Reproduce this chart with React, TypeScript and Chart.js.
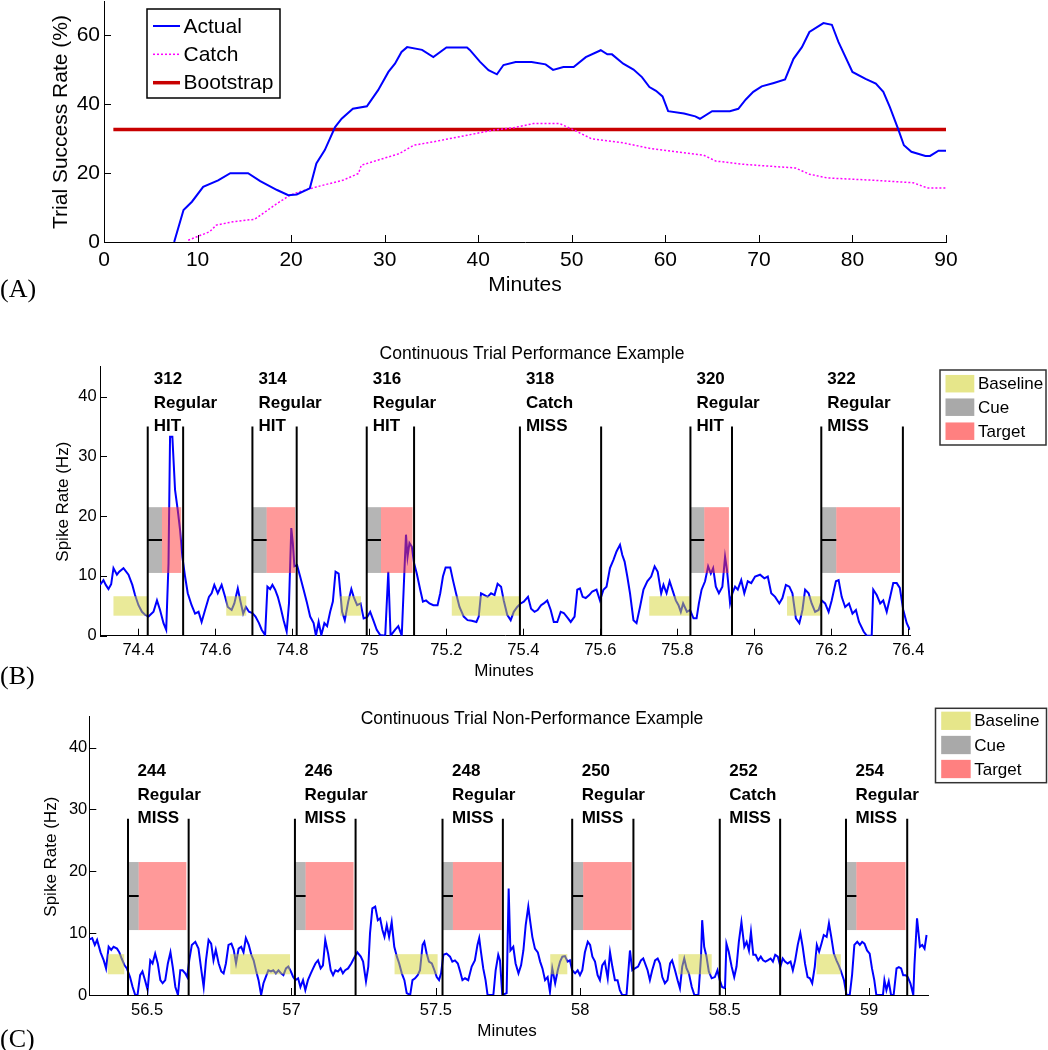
import React, { useEffect, useRef } from "react";
import { Chart, registerables } from "chart.js";

Chart.register(...registerables);

const SANS = '"Liberation Sans", Arial, Helvetica, sans-serif';
const SERIF = '"Liberation Serif", "Times New Roman", serif';

// ---------------- Panel A data ----------------
const actualSeries: [number, number][] = [
  [7.5, 0], [8.5, 9.3], [9.4, 11.7], [10.6, 16.0], [12.2, 17.9], [13.5, 20.0], [15.4, 20.0], [16.7, 17.7],
  [18.5, 15.1], [19.7, 13.6], [20.6, 13.8], [22.0, 15.6], [22.7, 22.8], [23.6, 26.7], [24.7, 33.4], [25.4, 35.8],
  [26.6, 38.7], [28.1, 39.4], [29.3, 44.1], [30.4, 49.4], [31.1, 51.8], [31.8, 55.2], [32.4, 56.6], [34.0, 55.8],
  [35.2, 53.7], [36.6, 56.5], [38.8, 56.5], [39.1, 55.8], [40.2, 52.3], [41.1, 49.9], [42.0, 48.7], [42.7, 51.4],
  [44.0, 52.3], [45.7, 52.3], [47.2, 51.6], [48.0, 50.0], [49.1, 50.8], [50.2, 50.8], [51.5, 53.7], [53.1, 55.7],
  [53.8, 54.5], [54.3, 54.5], [55.5, 51.8], [56.6, 50.1], [57.5, 47.9], [58.3, 45.0], [59.0, 43.9], [59.7, 42.3],
  [60.3, 38.0], [62.0, 37.3], [63.2, 36.5], [63.7, 35.8], [65.0, 38.0], [66.9, 38.0], [67.8, 38.7], [68.6, 41.4],
  [69.4, 43.6], [70.3, 45.2], [71.6, 46.2], [72.8, 47.2], [73.7, 53.2], [74.6, 56.6], [75.4, 61.0], [76.9, 63.6],
  [77.8, 63.1], [78.5, 58.1], [80.0, 49.4], [81.4, 47.4], [82.5, 46.0], [83.3, 43.6], [84.0, 39.2], [84.9, 32.7],
  [85.5, 28.1], [86.3, 26.2], [87.8, 25.0], [88.3, 25.0], [89.2, 26.5], [90.0, 26.5],
];
const catchSeries: [number, number][] = [
  [9.0, 0.5], [10.1, 1.7], [11.3, 3.0], [12.0, 4.9], [13.8, 5.9], [16.1, 6.6], [17.0, 8.3], [18.5, 11.2],
  [19.9, 13.6], [20.9, 14.6], [22.7, 16.0], [25.6, 18.0], [27.2, 19.9], [27.5, 22.3], [29.9, 24.3], [31.6, 25.7],
  [33.1, 28.1], [35.2, 29.1], [38.8, 31.0], [41.6, 32.5], [43.8, 33.2], [45.9, 34.4], [48.7, 34.4], [49.5, 33.4],
  [50.4, 32.3], [52.1, 30.0], [55.5, 28.8], [58.5, 27.1], [61.1, 26.2], [64.1, 25.2], [65.4, 23.5], [68.6, 22.5],
  [73.9, 21.5], [75.4, 19.7], [77.3, 18.6], [81.8, 18.0], [86.5, 17.2], [88.0, 15.7], [90.0, 15.7],
];
const bootstrapSeries: [number, number][] = [[1, 32.7], [90, 32.7]];
const minuteTicksA = [0, 10, 20, 30, 40, 50, 60, 70, 80, 90];
const rateTicksA = [0, 20, 40, 60];
const legendLabelsA = ["Actual", "Catch", "Bootstrap"];

// ---------------- Panel B data ----------------
const spikeTraceB: [number, number][] = [
  [74.300, 8.5], [74.309, 9.3], [74.315, 8.5], [74.322, 7.8], [74.329, 8.6], [74.335, 11.3], [74.344, 10.2], [74.350, 10.7],
  [74.361, 11.3], [74.374, 10.2], [74.384, 8.5], [74.391, 6.8], [74.400, 5.1], [74.409, 4.0], [74.417, 3.5], [74.426, 3.2],
  [74.439, 4.0], [74.448, 5.9], [74.456, 4.3], [74.465, 2.1], [74.472, 1.0], [74.478, 12.1], [74.482, 33.3], [74.488, 33.3],
  [74.495, 24.4], [74.502, 21.0], [74.508, 17.7], [74.514, 13.2], [74.521, 9.9], [74.528, 7.1], [74.538, 5.1], [74.547, 3.7],
  [74.556, 4.0], [74.564, 2.3], [74.573, 4.3], [74.583, 6.5], [74.590, 7.1], [74.597, 8.5], [74.606, 7.1], [74.616, 8.5],
  [74.625, 6.5], [74.632, 4.8], [74.642, 4.3], [74.649, 5.4], [74.658, 7.9], [74.665, 5.7], [74.672, 3.7], [74.679, 4.8],
  [74.687, 4.0], [74.696, 3.8], [74.704, 3.2], [74.713, 2.1], [74.720, 1.0], [74.729, 0.1], [74.735, 8.2], [74.742, 7.8],
  [74.748, 8.5], [74.755, 7.7], [74.762, 6.5], [74.769, 4.8], [74.777, 2.6], [74.785, 0.7], [74.791, 5.4], [74.797, 18.0],
  [74.801, 15.5], [74.805, 11.6], [74.812, 11.8], [74.820, 9.9], [74.829, 7.7], [74.837, 5.7], [74.846, 3.2], [74.855, 2.1],
  [74.861, 0], [74.868, 2.3], [74.875, 0.1], [74.883, 2.1], [74.890, 1.6], [74.898, 4.0], [74.905, 5.7], [74.912, 10.7],
  [74.920, 10.4], [74.929, 4.0], [74.936, 2.6], [74.945, 5.7], [74.953, 7.8], [74.959, 6.5], [74.968, 5.1], [74.977, 5.4],
  [74.985, 2.9], [74.994, 3.1], [75.002, 4.0], [75.010, 2.6], [75.019, 1.0], [75.028, 0.1], [75.041, 0], [75.049, 10.7],
  [75.055, 0], [75.067, 1.0], [75.075, 1.6], [75.084, 0], [75.091, 11.0], [75.095, 16.9], [75.099, 13.2], [75.104, 15.5],
  [75.110, 14.9], [75.116, 12.1], [75.123, 10.4], [75.132, 7.7], [75.139, 5.7], [75.147, 5.9], [75.156, 5.4], [75.166, 5.1],
  [75.177, 5.1], [75.184, 7.1], [75.191, 9.9], [75.198, 11.4], [75.210, 11.4], [75.217, 9.3], [75.225, 7.1], [75.234, 4.8],
  [75.245, 3.2], [75.255, 2.6], [75.266, 2.5], [75.278, 2.3], [75.284, 3.2], [75.290, 7.1], [75.299, 6.8], [75.307, 6.5],
  [75.316, 7.1], [75.325, 6.8], [75.333, 8.7], [75.342, 8.2], [75.349, 5.9], [75.358, 3.5], [75.367, 2.6], [75.375, 4.0],
  [75.384, 4.8], [75.393, 5.4], [75.401, 5.7], [75.412, 6.5], [75.420, 4.5], [75.429, 4.0], [75.437, 4.3], [75.446, 5.1],
  [75.453, 5.4], [75.462, 5.9], [75.471, 4.3], [75.479, 2.3], [75.488, 2.3], [75.497, 4.0], [75.505, 3.8], [75.516, 2.9],
  [75.523, 2.3], [75.533, 3.2], [75.540, 7.7], [75.547, 7.9], [75.554, 6.5], [75.562, 6.3], [75.571, 6.8], [75.579, 7.4],
  [75.590, 7.7], [75.599, 5.9], [75.608, 7.7], [75.616, 8.2], [75.625, 11.3], [75.634, 12.7], [75.642, 14.1], [75.651, 15.2],
  [75.657, 13.5], [75.663, 12.4], [75.670, 9.9], [75.677, 7.1], [75.686, 2.6], [75.694, 2.1], [75.703, 4.8], [75.712, 7.7],
  [75.722, 9.1], [75.732, 9.9], [75.741, 11.6], [75.749, 10.7], [75.758, 7.1], [75.764, 8.5], [75.772, 7.1], [75.780, 9.1],
  [75.787, 7.7], [75.796, 5.9], [75.803, 5.1], [75.809, 4.0], [75.815, 5.4], [75.825, 4.0], [75.833, 4.3], [75.842, 2.9],
  [75.850, 2.9], [75.856, 5.4], [75.863, 7.7], [75.872, 9.1], [75.880, 11.6], [75.887, 10.4], [75.893, 11.3], [75.900, 8.2],
  [75.908, 7.1], [75.917, 8.2], [75.924, 13.2], [75.929, 11.0], [75.937, 5.4], [75.943, 7.1], [75.950, 8.2], [75.957, 7.7],
  [75.966, 9.3], [75.974, 7.1], [75.983, 9.1], [75.992, 8.8], [76.002, 9.9], [76.015, 10.2], [76.026, 9.6], [76.035, 9.9],
  [76.044, 7.1], [76.054, 6.5], [76.065, 5.4], [76.073, 6.3], [76.082, 8.5], [76.091, 8.2], [76.099, 7.1], [76.108, 2.9],
  [76.117, 2.1], [76.125, 4.3], [76.132, 7.7], [76.141, 7.1], [76.149, 5.4], [76.158, 4.0], [76.167, 4.3], [76.175, 5.9],
  [76.184, 5.4], [76.193, 4.0], [76.201, 5.9], [76.212, 9.1], [76.219, 9.3], [76.227, 6.5], [76.236, 4.8], [76.246, 5.4],
  [76.255, 3.7], [76.264, 4.3], [76.272, 2.3], [76.284, 0.7], [76.292, 0], [76.305, 0], [76.309, 7.7], [76.318, 6.8],
  [76.327, 5.4], [76.335, 5.9], [76.344, 4.0], [76.353, 6.5], [76.361, 8.8], [76.370, 8.8], [76.378, 8.0], [76.387, 4.3],
  [76.396, 2.1], [76.404, 1.0],
];
const trialIdsB = ["312", "314", "316", "318", "320", "322"];
const trialTypesB = ["Regular", "Regular", "Regular", "Catch", "Regular", "Regular"];
const trialOutcomesB = ["HIT", "HIT", "HIT", "MISS", "HIT", "MISS"];
const trialStartB = [74.424, 74.696, 74.993, 75.391, 75.834, 76.174];
const trialEndB = [74.516, 74.811, 75.116, 75.602, 75.942, 76.386];
const cueEndB: (number | null)[] = [74.461, 74.733, 75.030, null, 75.870, 76.213];
const targetEndB: (number | null)[] = [74.511, 74.807, 75.112, null, 75.934, 76.379];
const baselineStartB = [74.335, 74.628, 74.924, 75.214, 75.727, 76.085];
const baselineEndB = [74.424, 74.680, 74.978, 75.390, 75.832, 76.174];
const minuteTicksB = [74.4, 74.6, 74.8, 75, 75.2, 75.4, 75.6, 75.8, 76, 76.2, 76.4];

// ---------------- Panel C data ----------------
const spikeTraceC: [number, number][] = [
  [56.301, 9.0], [56.310, 9.2], [56.319, 8.1], [56.327, 8.9], [56.339, 6.9], [56.350, 5.6], [56.358, 4.3], [56.367, 7.8],
  [56.376, 7.3], [56.384, 7.8], [56.396, 7.5], [56.404, 6.9], [56.412, 5.9], [56.422, 4.8], [56.430, 4.3], [56.441, 2.9],
  [56.450, 1.3], [56.459, 0], [56.467, 0], [56.476, 3.2], [56.484, 3.8], [56.493, 2.4], [56.502, 0.8], [56.511, 5.6],
  [56.519, 5.1], [56.528, 6.7], [56.537, 5.1], [56.546, 2.4], [56.554, 1.9], [56.563, 2.4], [56.572, 5.1], [56.581, 6.9],
  [56.589, 4.5], [56.598, 1.3], [56.607, 0], [56.615, 4.0], [56.623, 4.0], [56.632, 3.5], [56.639, 2.9], [56.646, 5.6],
  [56.655, 8.1], [56.667, 8.6], [56.678, 7.5], [56.688, 4.0], [56.696, 1.3], [56.704, 5.6], [56.713, 8.9], [56.722, 8.3],
  [56.730, 5.6], [56.738, 7.3], [56.748, 5.1], [56.757, 3.8], [56.765, 3.5], [56.773, 5.1], [56.782, 8.1], [56.792, 8.3],
  [56.800, 7.3], [56.808, 5.1], [56.817, 7.5], [56.826, 7.8], [56.834, 6.9], [56.842, 9.2], [56.852, 8.1], [56.861, 6.5],
  [56.869, 5.6], [56.877, 4.0], [56.886, 2.4], [56.895, 0], [56.903, 1.9], [56.911, 2.9], [56.920, 4.0], [56.929, 3.8],
  [56.937, 4.0], [56.946, 3.5], [56.955, 4.0], [56.964, 3.5], [56.972, 3.2], [56.981, 4.3], [56.989, 4.6], [56.998, 3.8],
  [57.006, 2.9], [57.014, 2.4], [57.023, 2.7], [57.031, 1.3], [57.040, 2.4], [57.048, 0.8], [57.057, 2.4], [57.067, 3.5],
  [57.075, 4.3], [57.083, 5.1], [57.092, 5.6], [57.101, 4.3], [57.109, 4.8], [57.117, 8.9], [57.127, 6.7], [57.136, 4.0],
  [57.144, 3.2], [57.152, 4.0], [57.161, 3.8], [57.170, 4.3], [57.178, 3.5], [57.186, 4.0], [57.196, 4.3], [57.207, 5.1],
  [57.216, 5.9], [57.228, 6.9], [57.240, 6.2], [57.248, 5.4], [57.258, 2.2], [57.266, 4.6], [57.272, 10.0], [57.280, 14.0],
  [57.290, 14.3], [57.299, 12.1], [57.307, 12.4], [57.315, 10.5], [57.322, 9.4], [57.330, 11.3], [57.338, 9.4], [57.347, 11.8],
  [57.356, 7.8], [57.365, 6.2], [57.373, 5.1], [57.382, 3.5], [57.391, 2.4], [57.399, 0.3], [57.411, 0], [57.419, 2.4],
  [57.428, 2.7], [57.437, 3.2], [57.445, 4.0], [57.454, 8.1], [57.460, 8.6], [57.468, 6.7], [57.476, 5.4], [57.486, 5.1],
  [57.495, 4.0], [57.503, 2.9], [57.511, 2.4], [57.518, 3.5], [57.526, 6.5], [57.537, 6.7], [57.549, 6.2], [57.557, 5.4],
  [57.566, 5.6], [57.576, 5.1], [57.584, 3.8], [57.592, 2.4], [57.601, 2.7], [57.612, 2.4], [57.624, 4.6], [57.635, 5.6],
  [57.644, 8.1], [57.650, 9.2], [57.656, 7.0], [57.664, 4.3], [57.672, 2.4], [57.679, 0], [57.699, 0], [57.707, 4.0],
  [57.716, 6.5], [57.722, 5.6], [57.730, 0], [57.745, 0.3], [57.752, 17.2], [57.758, 7.2], [57.768, 7.8], [57.776, 5.1],
  [57.786, 3.5], [57.795, 4.8], [57.803, 7.2], [57.811, 11.3], [57.820, 14.3], [57.826, 12.1], [57.834, 9.4], [57.843, 7.5],
  [57.853, 6.9], [57.861, 5.4], [57.869, 4.3], [57.878, 2.4], [57.887, 2.9], [57.895, 0.5], [57.903, 4.3], [57.913, 1.9],
  [57.922, 4.0], [57.930, 5.4], [57.938, 6.2], [57.947, 6.3], [57.956, 5.4], [57.964, 5.6], [57.972, 4.0], [57.982, 3.5],
  [57.991, 4.0], [57.999, 3.2], [58.007, 4.0], [58.016, 6.9], [58.026, 8.6], [58.034, 8.1], [58.042, 6.2], [58.051, 5.4],
  [58.060, 3.2], [58.068, 2.4], [58.076, 4.8], [58.085, 5.4], [58.095, 2.7], [58.103, 6.9], [58.111, 4.6], [58.120, 2.4],
  [58.129, 2.4], [58.137, 0.8], [58.145, 0], [58.160, 0], [58.172, 7.2], [58.180, 4.0], [58.189, 4.3], [58.200, 4.6],
  [58.210, 5.6], [58.218, 5.9], [58.233, 4.0], [58.241, 2.4], [58.249, 4.0], [58.259, 5.6], [58.268, 5.9], [58.276, 5.1],
  [58.284, 2.9], [58.293, 1.9], [58.302, 2.4], [58.311, 5.1], [58.318, 5.6], [58.328, 4.0], [58.337, 2.4], [58.345, 1.1],
  [58.353, 4.6], [58.360, 5.9], [58.368, 4.3], [58.376, 3.5], [58.386, 1.3], [58.395, 0], [58.409, 0], [58.418, 6.2],
  [58.422, 12.1], [58.429, 7.8], [58.437, 6.2], [58.445, 3.8], [58.455, 2.7], [58.466, 2.9], [58.475, 4.0], [58.483, 2.4],
  [58.491, 1.3], [58.501, 1.1], [58.506, 8.3], [58.514, 7.0], [58.524, 4.6], [58.533, 2.9], [58.541, 4.6], [58.549, 8.6],
  [58.558, 11.8], [58.568, 7.8], [58.576, 8.6], [58.584, 7.2], [58.591, 10.2], [58.599, 6.5], [58.607, 6.5], [58.616, 5.6],
  [58.625, 6.2], [58.633, 5.6], [58.641, 5.4], [58.649, 5.6], [58.659, 5.9], [58.667, 5.4], [58.675, 6.5], [58.684, 6.2],
  [58.693, 4.6], [58.701, 5.9], [58.709, 5.4], [58.718, 5.1], [58.728, 5.4], [58.736, 4.0], [58.744, 5.6], [58.753, 8.1],
  [58.762, 10.0], [58.770, 7.8], [58.778, 5.1], [58.787, 2.9], [58.795, 2.7], [58.803, 1.9], [58.812, 4.6], [58.819, 8.1],
  [58.827, 7.0], [58.835, 8.3], [58.843, 9.7], [58.853, 9.4], [58.861, 11.6], [58.869, 9.4], [58.878, 6.7], [58.887, 5.6],
  [58.895, 4.8], [58.903, 3.8], [58.913, 2.4], [58.922, 0], [58.933, 0], [58.941, 3.2], [58.949, 8.1], [58.959, 8.6],
  [58.968, 8.1], [58.976, 8.6], [58.984, 8.3], [58.993, 7.2], [59.002, 6.7], [59.010, 4.3], [59.018, 2.4], [59.025, 0],
  [59.048, 0], [59.053, 2.4], [59.060, 0.8], [59.068, 2.2], [59.076, 0], [59.085, 0], [59.095, 4.3], [59.103, 4.5],
  [59.111, 4.3], [59.118, 3.2], [59.126, 3.2], [59.134, 2.9], [59.143, 1.9], [59.153, 0], [59.157, 4.8], [59.166, 12.4],
  [59.176, 7.8], [59.184, 8.1], [59.192, 7.5], [59.199, 9.7],
];
const trialIdsC = ["244", "246", "248", "250", "252", "254"];
const trialTypesC = ["Regular", "Regular", "Regular", "Regular", "Catch", "Regular"];
const trialOutcomesC = ["MISS", "MISS", "MISS", "MISS", "MISS", "MISS"];
const trialStartC = [56.434, 57.012, 57.523, 57.972, 58.483, 58.920];
const trialEndC = [56.644, 57.222, 57.732, 58.184, 58.692, 59.132];
const cueEndC: (number | null)[] = [56.471, 57.049, 57.559, 58.010, null, 58.956];
const targetEndC: (number | null)[] = [56.636, 57.215, 57.728, 58.178, null, 59.126];
const baselineStartC = [56.364, 56.788, 57.357, 57.896, 58.340, 58.818];
const baselineEndC = [56.421, 56.995, 57.506, 57.955, 58.455, 58.902];
const minuteTicksC = [56.5, 57, 57.5, 58, 58.5, 59];

const spikeTicks = [0, 10, 20, 30, 40];
const windowLegendLabels = ["Baseline", "Cue", "Target"];

// ---------------- helpers ----------------
function linScale(min: number, max: number, vals: number[], size: number, pad: number, fit: number, horizontal: boolean) {
  return {
    type: "linear",
    min,
    max,
    grid: { display: false, drawTicks: false },
    border: { display: true, color: "#000", width: 1 },
    ticks: {
      autoSkip: false,
      maxRotation: 0,
      minRotation: 0,
      padding: pad,
      color: "#000",
      font: { size, family: SANS },
      callback: (v: any) => String(v),
    },
    afterBuildTicks: (s: any) => {
      s.ticks = vals.map((v) => ({ value: v }));
    },
    afterFit: (s: any) => {
      if (horizontal) s.height = fit;
      else s.width = fit;
      s.paddingTop = 0;
      s.paddingBottom = 0;
      s.paddingLeft = 0;
      s.paddingRight = 0;
    },
  };
}

const inwardTicks = (len: number) => ({
  id: "inwardTicks",
  afterDraw(chart: any) {
    const { ctx, chartArea, scales } = chart;
    const x = scales.x, y = scales.y;
    ctx.save();
    ctx.strokeStyle = "#000";
    ctx.lineWidth = 1;
    ctx.beginPath();
    x.ticks.forEach((t: any) => {
      const px = Math.round(x.getPixelForValue(t.value)) + 0.5;
      ctx.moveTo(px, chartArea.bottom);
      ctx.lineTo(px, chartArea.bottom - len);
    });
    y.ticks.forEach((t: any) => {
      const py = Math.round(y.getPixelForValue(t.value)) + 0.5;
      ctx.moveTo(chartArea.left, py);
      ctx.lineTo(chartArea.left + len, py);
    });
    ctx.stroke();
    ctx.restore();
  },
});

type TextItem = { text: string; x: number; y: number; font: string; align?: CanvasTextAlign; rotate?: boolean };
const textPlugin = (items: TextItem[]) => ({
  id: "staticText",
  afterDraw(chart: any) {
    const ctx = chart.ctx;
    ctx.save();
    ctx.fillStyle = "#000";
    ctx.textBaseline = "middle";
    for (const it of items) {
      ctx.font = it.font;
      ctx.textAlign = it.align || "center";
      if (it.rotate) {
        ctx.save();
        ctx.translate(it.x, it.y);
        ctx.rotate(-Math.PI / 2);
        ctx.fillText(it.text, 0, 0);
        ctx.restore();
      } else {
        ctx.fillText(it.text, it.x, it.y);
      }
    }
    ctx.restore();
  },
});

const legendA = {
  id: "legendA",
  afterDraw(chart: any) {
    const ctx = chart.ctx;
    const ds = chart.data.datasets;
    ctx.save();
    ctx.fillStyle = "#fff";
    ctx.fillRect(147, 9, 133, 89);
    ctx.strokeStyle = "#000";
    ctx.lineWidth = 1.5;
    ctx.strokeRect(147, 9, 133, 89);
    const rows = [26, 54.3, 82.7];
    legendLabelsA.forEach((lab, i) => {
      const d = ds[i];
      ctx.strokeStyle = d.borderColor;
      ctx.lineWidth = d.borderWidth;
      ctx.setLineDash(d.borderDash || []);
      ctx.beginPath();
      ctx.moveTo(153, rows[i]);
      ctx.lineTo(180, rows[i]);
      ctx.stroke();
      ctx.setLineDash([]);
      ctx.fillStyle = "#000";
      ctx.font = `21px ${SANS}`;
      ctx.textAlign = "left";
      ctx.textBaseline = "middle";
      ctx.fillText(lab, 183.5, rows[i] + 1);
    });
    ctx.restore();
  },
};

const SWATCH_COLORS = ["#e6e68a", "#a9a9a9", "#ff8080"];
const windowLegend = (bx: number, by: number, bw: number, bh: number, sx: number, sw: number, rows: number[], sh: number, tx: number) => ({
  id: "windowLegend",
  afterDraw(chart: any) {
    const ctx = chart.ctx;
    ctx.save();
    ctx.fillStyle = "#fff";
    ctx.fillRect(bx, by, bw, bh);
    ctx.strokeStyle = "#333";
    ctx.lineWidth = 1.5;
    ctx.strokeRect(bx, by, bw, bh);
    windowLegendLabels.forEach((lab, i) => {
      ctx.fillStyle = SWATCH_COLORS[i];
      ctx.fillRect(sx, rows[i] - sh / 2, sw, sh);
      ctx.fillStyle = "#000";
      ctx.font = `17px ${SANS}`;
      ctx.textAlign = "left";
      ctx.textBaseline = "middle";
      ctx.fillText(lab, tx, rows[i] + 1);
    });
    ctx.restore();
  },
});

type Trials = {
  ids: string[]; types: string[]; outcomes: string[];
  start: number[]; end: number[]; cueEnd: (number | null)[]; targetEnd: (number | null)[];
  baseStart: number[]; baseEnd: number[]; lineTop: number; labelDx: number;
};
const trialPlugin = (t: Trials) => ({
  id: "trials",
  afterDatasetsDraw(chart: any) {
    const { ctx } = chart;
    const x = chart.scales.x, y = chart.scales.y;
    const X = (v: number) => x.getPixelForValue(v);
    const Y = (v: number) => y.getPixelForValue(v);
    ctx.save();
    ctx.fillStyle = "rgba(213,213,52,0.5)";
    t.baseStart.forEach((s, i) => {
      ctx.fillRect(X(s), Y(6.6), X(t.baseEnd[i]) - X(s), Y(3.35) - Y(6.6));
    });
    t.start.forEach((s, i) => {
      const ce = t.cueEnd[i], te = t.targetEnd[i];
      if (ce == null || te == null) return;
      ctx.fillStyle = "rgba(108,108,108,0.5)";
      ctx.fillRect(X(s), Y(21.5), X(ce) - X(s), Y(10.5) - Y(21.5));
      ctx.fillStyle = "rgba(255,52,52,0.5)";
      ctx.fillRect(X(ce), Y(21.5), X(te) - X(ce), Y(10.5) - Y(21.5));
    });
    ctx.strokeStyle = "#000";
    ctx.lineWidth = 2;
    ctx.beginPath();
    t.start.forEach((s, i) => {
      [s, t.end[i]].forEach((v) => {
        const px = X(v);
        ctx.moveTo(px, Y(0));
        ctx.lineTo(px, Y(t.lineTop));
      });
      const ce = t.cueEnd[i];
      if (ce != null) {
        ctx.moveTo(X(s), Y(16));
        ctx.lineTo(X(ce), Y(16));
      }
    });
    ctx.stroke();
    ctx.fillStyle = "#000";
    ctx.font = `bold 17px ${SANS}`;
    ctx.textAlign = "left";
    ctx.textBaseline = "middle";
    t.start.forEach((s, i) => {
      const px = X(s) + t.labelDx;
      const top = Y(t.lineTop);
      ctx.fillText(t.ids[i], px, top - 47);
      ctx.fillText(t.types[i], px, top - 23.5);
      ctx.fillText(t.outcomes[i], px, top);
    });
    ctx.restore();
  },
});

const toPts = (s: [number, number][]) => s.map(([x, y]) => ({ x, y }));

const baseOptions = (padding: any, scales: any) => ({
  responsive: false,
  animation: false,
  devicePixelRatio: 1,
  events: [],
  layout: { padding },
  plugins: { legend: { display: false }, tooltip: { enabled: false }, title: { display: false } },
  elements: { point: { radius: 0 }, line: { tension: 0 } },
  scales,
});

function buildA() {
  return {
    type: "line",
    data: {
      datasets: [
        { label: "Actual", data: toPts(actualSeries), borderColor: "#0000ff", borderWidth: 2, pointRadius: 0, fill: false },
        { label: "Catch", data: toPts(catchSeries), borderColor: "#ff00ff", borderWidth: 1.5, borderDash: [2, 2], pointRadius: 0, fill: false },
        { label: "Bootstrap", data: toPts(bootstrapSeries), borderColor: "#c80000", borderWidth: 3.5, pointRadius: 0, fill: false },
      ],
    },
    options: baseOptions({ left: 0, right: 102, top: 1, bottom: 0 }, {
      x: linScale(0, 90, minuteTicksA, 21, 5.4, 68, true),
      y: linScale(0, 70, rateTicksA, 21, 4, 104, false),
    }),
    plugins: [
      inwardTicks(7),
      legendA,
      textPlugin([
        { text: "Trial Success Rate (%)", x: 61, y: 122, font: `21px ${SANS}`, rotate: true },
        { text: "Minutes", x: 525, y: 285, font: `21px ${SANS}` },
        { text: "(A)", x: 0, y: 290, font: `26px ${SERIF}`, align: "left" },
      ]),
    ],
  };
}

function buildB() {
  return {
    type: "line",
    data: {
      datasets: [
        { label: "Spike rate", data: toPts(spikeTraceB), borderColor: "#0000ff", borderWidth: 2, pointRadius: 0, fill: false },
      ],
    },
    options: baseOptions({ left: 0, right: 137.8, top: 56.7, bottom: 0 }, {
      x: linScale(74.3, 76.405, minuteTicksB, 16.5, 4.4, 54.3, true),
      y: linScale(0, 45, spikeTicks, 16.5, 3.3, 100, false),
    }),
    plugins: [
      trialPlugin({
        ids: trialIdsB, types: trialTypesB, outcomes: trialOutcomesB,
        start: trialStartB, end: trialEndB, cueEnd: cueEndB, targetEnd: targetEndB,
        baseStart: baselineStartB, baseEnd: baselineEndB, lineTop: 35, labelDx: 6,
      }),
      inwardTicks(7),
      windowLegend(940, 60, 106, 75, 945.5, 28.8, [73.7, 97.2, 121.2], 17.5, 978),
      textPlugin([
        { text: "Continuous Trial Performance Example", x: 532, y: 44, font: `17.5px ${SANS}` },
        { text: "Spike Rate (Hz)", x: 63, y: 191.7, font: `17px ${SANS}`, rotate: true },
        { text: "Minutes", x: 504, y: 361.7, font: `17px ${SANS}` },
        { text: "(B)", x: 0, y: 366.7, font: `26px ${SERIF}`, align: "left" },
      ]),
    ],
  };
}

function buildC() {
  return {
    type: "line",
    data: {
      datasets: [
        { label: "Spike rate", data: toPts(spikeTraceC), borderColor: "#0000ff", borderWidth: 2, pointRadius: 0, fill: false },
      ],
    },
    options: baseOptions({ left: 0, right: 119.7, top: 26.7, bottom: 0 }, {
      x: linScale(56.3, 59.205, minuteTicksC, 16.5, 5.1, 55, true),
      y: linScale(0, 45, spikeTicks, 16.5, 2, 89.3, false),
    }),
    plugins: [
      trialPlugin({
        ids: trialIdsC, types: trialTypesC, outcomes: trialOutcomesC,
        start: trialStartC, end: trialEndC, cueEnd: cueEndC, targetEnd: targetEndC,
        baseStart: baselineStartC, baseEnd: baselineEndC, lineTop: 28.5, labelDx: 9.5,
      }),
      inwardTicks(7),
      windowLegend(935.5, 18.3, 111, 74.4, 941.2, 29.5, [30.8, 55, 79], 18.3, 974.2),
      textPlugin([
        { text: "Continuous Trial Non-Performance Example", x: 532, y: 29.3, font: `17.5px ${SANS}` },
        { text: "Spike Rate (Hz)", x: 51.7, y: 166.7, font: `17px ${SANS}`, rotate: true },
        { text: "Minutes", x: 507, y: 341.7, font: `17px ${SANS}` },
        { text: "(C)", x: 0, y: 350, font: `26px ${SERIF}`, align: "left" },
      ]),
    ],
  };
}

function Panel({ top, height, build }: { top: number; height: number; build: () => any }) {
  const ref = useRef<HTMLCanvasElement>(null);
  useEffect(() => {
    const chart = new Chart(ref.current as HTMLCanvasElement, build());
    return () => chart.destroy();
  }, []);
  return (
    <canvas
      ref={ref}
      width={1048}
      height={height}
      style={{ position: "absolute", left: 0, top, width: 1048, height, display: "block" }}
    />
  );
}

export default function App() {
  return (
    <div style={{ position: "absolute", left: 0, top: 0, width: 1048, height: 1050, background: "#fff", overflow: "hidden" }}>
      <Panel top={0} height={310} build={buildA} />
      <Panel top={310} height={380} build={buildB} />
      <Panel top={690} height={360} build={buildC} />
    </div>
  );
}
